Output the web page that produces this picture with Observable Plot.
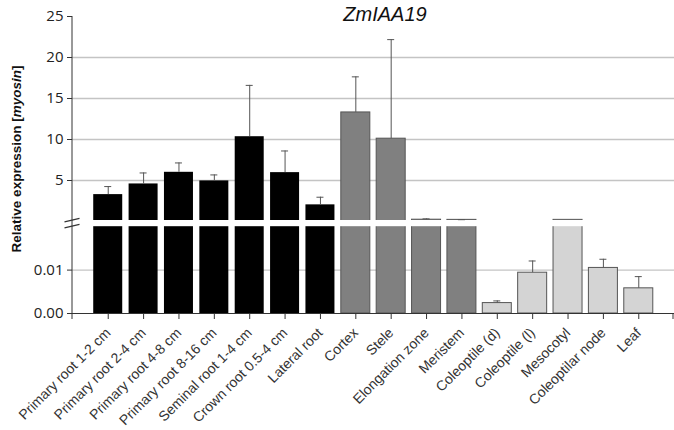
<!DOCTYPE html>
<html><head><meta charset="utf-8">
<script src="https://cdn.jsdelivr.net/npm/d3@7"></script>
<script src="https://cdn.jsdelivr.net/npm/@observablehq/plot@0.6"></script>
<style>body{margin:0;background:#fff} #chart{width:674px;height:430px}</style>
</head><body><div id="chart"></div>
<script>
// ---- data ----
const categories = ["Primary root 1-2 cm","Primary root 2-4 cm","Primary root 4-8 cm","Primary root 8-16 cm","Seminal root 1-4 cm","Crown root 0.5-4 cm","Lateral root","Cortex","Stele","Elongation zone","Meristem","Coleoptile (d)","Coleoptile (l)","Mesocotyl","Coleoptilar node","Leaf"];
const values = [3.28, 4.58, 6.0, 4.95, 10.34, 5.96, 2.03, 13.3, 10.1, 0.22, 0.2, 0.0024, 0.0094, 0.2, 0.0105, 0.0058];
const errors = [0.98, 1.34, 1.14, 0.73, 6.26, 2.64, 0.93, 4.34, 12.08, 0.1, 0.02, 0.0005, 0.0027, 0, 0.002, 0.0027];
const groups = ["root","root","root","root","root","root","root","tissue","tissue","tissue","tissue","shoot","shoot","shoot","shoot","shoot"];
const groupNames = ["root","tissue","shoot"];
const groupColors = ["#000000","#808080","#d4d4d4"];
const upperTicks = [5, 10, 15, 20, 25];
const lowerTicks = [0, 0.01];
const chartTitle = "ZmIAA19";

// ---- broken axis transform ----
const LOW_MAX = 0.02, LOW_SPAN = 86.8, UP_ZERO = 92, UP_PER = 8.2, GAP = [86.8, 93];
const u = v => v <= LOW_MAX ? v / LOW_MAX * LOW_SPAN : UP_ZERO + v * UP_PER;

const rows = categories.map((c, i) => ({c, v: values[i], e: errors[i], g: groups[i]}));
const tickU = [...lowerTicks, ...upperTicks].map(u);
const tickLabel = new Map([
  ...lowerTicks.map(t => [u(t), t.toFixed(2)]),
  ...upperTicks.map(t => [u(t), String(t)])
]);
const gridVals = [0.01, 5, 10, 15, 20];

const decor = (index, scales, values, dimensions) => {
  const {marginLeft, marginTop, height, marginBottom, width} = dimensions;
  const g = d3.create("svg:g").attr("stroke", "#333").attr("fill", "none").attr("stroke-width", 1);
  const x0 = marginLeft, yb = height - marginBottom;
  g.append("line").attr("x1", x0).attr("x2", x0).attr("y1", marginTop).attr("y2", yb + 6);
  g.append("line").attr("x1", width - 1).attr("x2", width - 1).attr("y1", yb).attr("y2", yb + 6);
  const yc = scales.y((GAP[0] + GAP[1]) / 2);
  for (const off of [-3, 3]) {
    g.append("line").attr("x1", x0 - 7.5).attr("x2", x0 + 7.5)
      .attr("y1", yc + off + 1.7).attr("y2", yc + off - 1.7).attr("stroke-width", 1.2);
  }
  return g.node();
};

const plot = Plot.plot({
  width: 674, height: 430,
  marginLeft: 72, marginRight: 0, marginTop: 16, marginBottom: 117,
  style: {fontFamily: "'Liberation Sans', Arial, sans-serif", background: "white", color: "#222"},
  x: {domain: categories, paddingInner: 0.18, paddingOuter: 0.6, round: false, label: null},
  y: {domain: [0, u(25)], label: null},
  color: {domain: groupNames, range: groupColors},
  marks: [
    Plot.ruleY(gridVals, {y: d => u(d), stroke: "#c4c4c4", strokeWidth: 1.4}),
    Plot.barY(rows.filter(d => d.g === "root"), {x: "c", y1: 0, y2: d => u(d.v), fill: "g"}),
    Plot.barY(rows.filter(d => d.g !== "root"), {x: "c", y1: 0, y2: d => u(d.v), fill: "g", stroke: "#555", strokeWidth: 1}),
    Plot.rect([GAP], {y1: d => d[0], y2: d => d[1], fill: "white"}),
    Plot.ruleX(rows.filter(d => d.e > 0), {x: "c", y1: d => u(d.v), y2: d => u(d.v + d.e), stroke: "#555", strokeWidth: 1}),
    Plot.tickY(rows.filter(d => d.e > 0), {x: "c", y: d => u(d.v + d.e), stroke: "#555", strokeWidth: 1, insetLeft: 11, insetRight: 11}),
    Plot.ruleY([0], {stroke: "#333"}),
    Plot.axisX({tickSize: 6, tickRotate: -45, tickPadding: 11, fontSize: 14, stroke: "#333", fill: "#333", label: null}),
    Plot.axisY({ticks: tickU, tickFormat: t => tickLabel.get(t), tickSize: 5, tickPadding: 4, fontSize: 15, fontFamily: "'Open Sans', sans-serif", stroke: "#333", label: null}),
    decor
  ]
});

const svg = d3.select(plot);
svg.append("text").attr("x", 385).attr("y", 21).attr("text-anchor", "middle")
  .attr("font-size", 20).attr("font-style", "italic").attr("fill", "#111")
  .attr("font-family", "'Liberation Sans', Arial, sans-serif").text(chartTitle);
const yl = svg.append("text").attr("transform", "translate(21,159) rotate(-90)")
  .attr("text-anchor", "middle").attr("font-size", 13.5).attr("font-weight", "bold").attr("fill", "#111")
  .attr("font-family", "'Liberation Sans', Arial, sans-serif");
yl.append("tspan").text("Relative expression [");
yl.append("tspan").attr("font-style", "italic").text("myosin");
yl.append("tspan").text("]");

document.getElementById("chart").appendChild(plot);
</script>
</body></html>
